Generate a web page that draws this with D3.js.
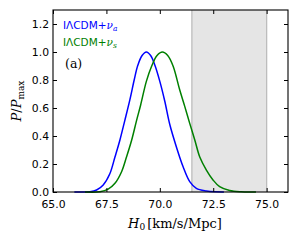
<!DOCTYPE html>
<html>
<head>
<meta charset="utf-8">
<script src="https://cdn.jsdelivr.net/npm/d3@7"></script>
<style>
  body { margin: 0; background: #fff; }
  svg { display: block; }
  .tick text { font-family: "DejaVu Sans", sans-serif; font-size: 10.8px; fill: #000; }
</style>
</head>
<body>
<div id="chart"></div>
<script>
// values
const xTicks = [65.0, 67.5, 70.0, 72.5, 75.0];
const yTicks = [0.0, 0.2, 0.4, 0.6, 0.8, 1.0, 1.2];
const shadeBand = [71.5, 75.0];

const blueH0 = [66.0, 66.73, 67.04, 67.35, 67.66, 67.90, 68.13, 68.36, 68.60, 68.80, 68.97, 69.17, 69.37,
                69.57, 69.77, 70.0, 70.23, 70.47, 70.78, 71.09, 71.40, 71.71, 72.18, 72.6, 73.0];
const blueP  = [0.0, 0.002, 0.014, 0.05, 0.13, 0.25, 0.37, 0.51, 0.66, 0.80, 0.905, 0.975, 1.0,
                0.975, 0.905, 0.79, 0.65, 0.48, 0.32, 0.18, 0.074, 0.026, 0.007, 0.001, 0.0];

const greenH0 = [66.5, 67.20, 67.58, 67.90, 68.21, 68.44, 68.68, 68.91, 69.10, 69.37, 69.62, 69.87, 70.12,
                 70.37, 70.62, 70.93, 71.17, 71.40, 71.64, 71.87, 72.18, 72.49, 72.80, 73.27, 73.8, 74.5];
const greenP  = [0.0, 0.002, 0.02, 0.062, 0.145, 0.25, 0.37, 0.51, 0.62, 0.79, 0.90, 0.975, 1.0,
                 0.975, 0.90, 0.73, 0.61, 0.49, 0.37, 0.25, 0.157, 0.086, 0.038, 0.01, 0.001, 0.0];

const width = 299, height = 245;
const margin = {left: 53, right: 11, top: 10, bottom: 53};

const svg = d3.select('#chart').append('svg')
              .attr('width', width)
              .attr('height', height);

const x = d3.scaleLinear().domain([65, 76]).range([margin.left, width - margin.right]);
const y = d3.scaleLinear().domain([0, 1.3]).range([height - margin.bottom, margin.top]);

// shaded band
svg.append('rect')
   .attr('x', x(shadeBand[0]))
   .attr('y', y(1.3))
   .attr('width', x(shadeBand[1]) - x(shadeBand[0]))
   .attr('height', y(0) - y(1.3))
   .attr('fill', '#e5e5e5');
shadeBand.forEach(v => {
  svg.append('line')
     .attr('x1', x(v)).attr('x2', x(v))
     .attr('y1', y(1.3)).attr('y2', y(0))
     .attr('stroke', '#bdbdbd')
     .attr('stroke-width', 1.3);
});

// curves
const line = d3.line()
               .x(d => x(d[0]))
               .y(d => y(d[1]))
               .curve(d3.curveCatmullRom.alpha(0.5));

svg.append('path')
   .datum(blueH0.map((h, i) => [h, blueP[i]]))
   .attr('d', line)
   .attr('fill', 'none')
   .attr('stroke', '#0000ff')
   .attr('stroke-width', 1.5);

svg.append('path')
   .datum(greenH0.map((h, i) => [h, greenP[i]]))
   .attr('d', line)
   .attr('fill', 'none')
   .attr('stroke', '#008000')
   .attr('stroke-width', 1.5);

// axes, ticks pointing inwards
const fmt = d3.format('.1f');
const axBottom = svg.append('g')
   .attr('transform', `translate(0,${y(0)})`)
   .call(d3.axisBottom(x).tickValues(xTicks).tickFormat(fmt).tickSizeInner(-4).tickSizeOuter(0).tickPadding(8.5));
const axLeft = svg.append('g')
   .attr('transform', `translate(${x(65)},0)`)
   .call(d3.axisLeft(y).tickValues(yTicks).tickFormat(fmt).tickSizeInner(-4).tickSizeOuter(0).tickPadding(4));
const axTop = svg.append('g')
   .attr('transform', `translate(0,${y(1.3)})`)
   .call(d3.axisTop(x).tickValues(xTicks).tickFormat('').tickSizeInner(-4).tickSizeOuter(0));
const axRight = svg.append('g')
   .attr('transform', `translate(${x(76)},0)`)
   .call(d3.axisRight(y).tickValues(yTicks).tickFormat('').tickSizeInner(-4).tickSizeOuter(0));

[axBottom, axLeft, axTop, axRight].forEach(g => {
  g.select('.domain').remove();
  g.selectAll('.tick line').attr('stroke', '#000').attr('stroke-width', 1);
  g.attr('font-family', null).attr('font-size', null);
});

// frame
svg.append('rect')
   .attr('x', x(65)).attr('y', y(1.3))
   .attr('width', x(76) - x(65)).attr('height', y(0) - y(1.3))
   .attr('fill', 'none')
   .attr('stroke', '#000')
   .attr('stroke-width', 1.1);

// legend texts
const legend = [
  {label: 'IΛCDM+', sub: 'a', color: '#0000ff', yv: 28.5},
  {label: 'IΛCDM+', sub: 's', color: '#008000', yv: 46}
];
legend.forEach(l => {
  const t = svg.append('text')
     .attr('x', 63).attr('y', l.yv)
     .attr('fill', l.color)
     .attr('font-family', 'DejaVu Sans, sans-serif')
     .attr('font-size', 10.5);
  t.append('tspan').text(l.label);
  t.append('tspan').text('ν')
   .attr('font-family', 'DejaVu Serif, serif')
   .attr('font-style', 'italic');
  t.append('tspan').text(l.sub)
   .attr('font-family', 'DejaVu Serif, serif')
   .attr('font-style', 'italic')
   .attr('font-size', 7.5)
   .attr('dy', 2);
});

svg.append('text')
   .attr('x', 65).attr('y', 67.5)
   .attr('font-family', 'DejaVu Serif, serif')
   .attr('font-size', 12.5)
   .text('(a)');

// x label
const xl = svg.append('text')
   .attr('x', 175).attr('y', 227.5)
   .attr('text-anchor', 'middle')
   .attr('font-family', 'DejaVu Serif, serif')
   .attr('font-size', 13);
xl.append('tspan').text('H').attr('font-style', 'italic');
xl.append('tspan').text('0').attr('font-size', 9).attr('dy', 2.5);
xl.append('tspan').text('[km/s/Mpc]').attr('dy', -2.5).attr('dx', 2);

// y label
const yl = svg.append('text')
   .attr('transform', `translate(21,${(y(0) + y(1.3)) / 2}) rotate(-90)`)
   .attr('text-anchor', 'middle')
   .attr('font-family', 'DejaVu Serif, serif')
   .attr('font-size', 13);
yl.append('tspan').text('P').attr('font-style', 'italic');
yl.append('tspan').text('/');
yl.append('tspan').text('P').attr('font-style', 'italic');
yl.append('tspan').text('max').attr('font-size', 9).attr('dy', 2.5);
</script>
</body>
</html>
